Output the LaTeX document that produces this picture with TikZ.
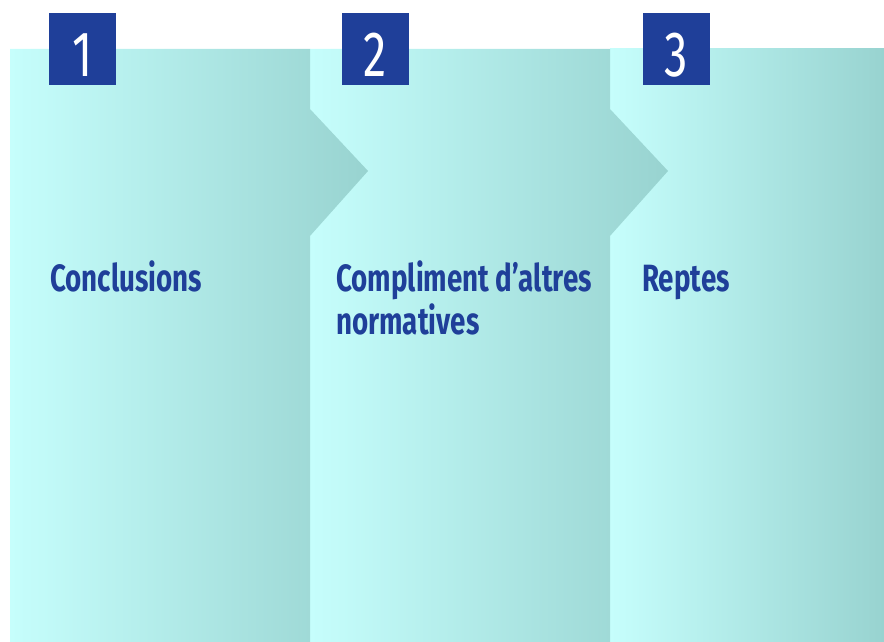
\documentclass[tikz,border=0pt]{standalone}
\usepackage{fontspec}
\newfontfamily\labelfont[FakeStretch=0.73]{Fira Sans}
\usetikzlibrary{positioning}
\definecolor{panellight}{HTML}{C6FEFC}
\definecolor{paneldark}{HTML}{98D3D0}
\definecolor{stepblue}{HTML}{1F3F99}
\begin{document}
\begin{tikzpicture}[x=1pt, y=1pt,
    panel/.style={left color=panellight, right color=paneldark},
    numbox/.style={fill=stepblue, text=white, minimum width=67pt,
      minimum height=72pt, inner sep=0pt, text height=56pt, text depth=0pt,
      font=\labelfont\fontsize{64}{64}\selectfont},
    steplabel/.style={text=stepblue, anchor=base west, inner sep=0pt,
      align=left, font=\labelfont\bfseries\fontsize{38}{43}\selectfont}]

    \useasboundingbox (0, 0) rectangle (884, 642);

    % Step 3 panel
    \path [panel] (610, 0) rectangle (884, 593);

    % Step 2 panel with arrow
    \path [panel] (310, 0) -- (310, 593) -- (610, 593) -- (610, 533)
          -- (668, 471) -- (610, 406) -- (610, 0) -- cycle;

    % Step 1 panel with arrow
    \path [panel] (10, 0) -- (10, 593) -- (310, 593) -- (310, 533)
          -- (368, 471) -- (310, 406) -- (310, 0) -- cycle;

    % Numbers
    \node [numbox] (num1) at (82.5, 593) {1};
    \node [numbox] (num2) at (375.5, 593) {2};
    \node [numbox] (num3) at (676.5, 593) {3};

    % Labels (base of the last line)
    \node [steplabel] (lab1) at (50, 350) {Conclusions};
    \node [steplabel] (lab2) at (336, 307) {Compliment d’altres\\normatives};
    \node [steplabel] (lab3) at (642, 350) {Reptes};
  \end{tikzpicture}
\end{document}
